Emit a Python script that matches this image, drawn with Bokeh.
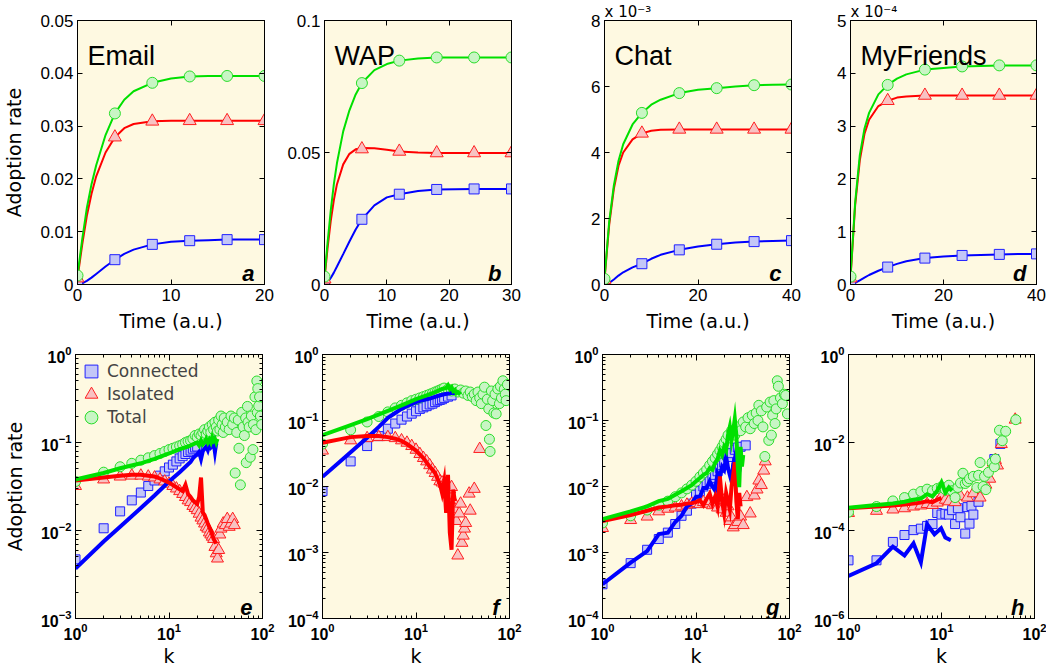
from bokeh.plotting import figure
from bokeh.models import (Range1d, FixedTicker, LinearAxis, LogAxis,
                          CustomJSTickFormatter, LogTickFormatter, Label,
                          Legend, LegendItem)
from bokeh.layouts import row, column
from bokeh.embed import file_html
from bokeh.resources import INLINE

# ---------------- data : top row (adoption rate vs time) ----------------
titles = ["Email", "WAP", "Chat", "MyFriends"]
letters_top = ["a", "b", "c", "d"]

a_t = [0, 4, 8, 12, 16, 20]
a_conn = [0.0002, 0.0047, 0.0076, 0.0083, 0.0085, 0.0085]
a_iso = [0.0012, 0.0279, 0.0309, 0.0310, 0.0310, 0.0310]
a_tot = [0.0017, 0.0324, 0.0382, 0.0394, 0.0395, 0.0395]
a_tc = [0, 0.5, 1, 1.5, 2, 3, 4, 5, 6, 8, 10, 12, 14, 16, 18, 20]
a_conn_c = [0, 0.0002, 0.0007, 0.0013, 0.0020, 0.0034, 0.0047, 0.0058, 0.0066, 0.0076, 0.0081, 0.0083, 0.0084, 0.0085, 0.0085, 0.0085]
a_iso_c = [0.0012, 0.0075, 0.0130, 0.0172, 0.0205, 0.0250, 0.0279, 0.0296, 0.0304, 0.0309, 0.0310, 0.0310, 0.0310, 0.0310, 0.0310, 0.0310]
a_tot_c = [0.0017, 0.0085, 0.0145, 0.0190, 0.0226, 0.0283, 0.0324, 0.0350, 0.0366, 0.0382, 0.0390, 0.0394, 0.0395, 0.0395, 0.0395, 0.0395]

b_t = [0, 6, 12, 18, 24, 30]
b_conn = [0.0, 0.0247, 0.0342, 0.0360, 0.0362, 0.0362]
b_iso = [0.002, 0.0513, 0.0504, 0.0498, 0.0498, 0.0498]
b_tot = [0.003, 0.0763, 0.0848, 0.0860, 0.0860, 0.0860]
b_tc = [0, 0.5, 1, 1.5, 2, 3, 4, 5, 6, 8, 10, 12, 15, 18, 21, 24, 27, 30]
b_conn_c = [0, 0.0008, 0.0025, 0.0045, 0.0068, 0.0115, 0.0163, 0.0208, 0.0247, 0.0300, 0.0330, 0.0342, 0.0354, 0.0360, 0.0361, 0.0362, 0.0362, 0.0362]
b_iso_c = [0.002, 0.014, 0.024, 0.032, 0.038, 0.0455, 0.0495, 0.0512, 0.0517, 0.0516, 0.0510, 0.0504, 0.0500, 0.0498, 0.0498, 0.0498, 0.0498, 0.0498]
b_tot_c = [0.003, 0.016, 0.028, 0.038, 0.046, 0.058, 0.066, 0.072, 0.0763, 0.0812, 0.0835, 0.0848, 0.0856, 0.0860, 0.0860, 0.0860, 0.0860, 0.0860]

c_t = [0, 8, 16, 24, 32, 40]
c_conn = [0.0, 0.63e-3, 1.05e-3, 1.22e-3, 1.30e-3, 1.33e-3]
c_iso = [0.15e-3, 4.58e-3, 4.70e-3, 4.70e-3, 4.70e-3, 4.70e-3]
c_tot = [0.17e-3, 5.20e-3, 5.80e-3, 5.95e-3, 6.04e-3, 6.06e-3]
c_tc = [0, 1, 2, 3, 4, 6, 8, 10, 12, 16, 20, 24, 28, 32, 36, 40]
c_conn_c = [0, 0.05e-3, 0.15e-3, 0.27e-3, 0.37e-3, 0.52e-3, 0.63e-3, 0.78e-3, 0.90e-3, 1.05e-3, 1.15e-3, 1.22e-3, 1.27e-3, 1.30e-3, 1.32e-3, 1.33e-3]
c_iso_c = [0.15e-3, 1.80e-3, 2.90e-3, 3.60e-3, 4.00e-3, 4.40e-3, 4.58e-3, 4.66e-3, 4.69e-3, 4.70e-3, 4.70e-3, 4.70e-3, 4.70e-3, 4.70e-3, 4.70e-3, 4.70e-3]
c_tot_c = [0.17e-3, 1.90e-3, 3.00e-3, 3.75e-3, 4.25e-3, 4.85e-3, 5.20e-3, 5.45e-3, 5.60e-3, 5.80e-3, 5.90e-3, 5.95e-3, 6.00e-3, 6.04e-3, 6.05e-3, 6.06e-3]

d_t = [0, 8, 16, 24, 32, 40]
d_conn = [0.0, 0.33e-4, 0.50e-4, 0.55e-4, 0.57e-4, 0.58e-4]
d_iso = [0.12e-4, 3.48e-4, 3.58e-4, 3.58e-4, 3.58e-4, 3.58e-4]
d_tot = [0.15e-4, 3.78e-4, 4.07e-4, 4.13e-4, 4.15e-4, 4.15e-4]
d_tc = [0, 1, 2, 3, 4, 6, 8, 10, 12, 16, 20, 24, 28, 32, 36, 40]
d_conn_c = [0, 0.03e-4, 0.08e-4, 0.13e-4, 0.18e-4, 0.26e-4, 0.33e-4, 0.39e-4, 0.44e-4, 0.50e-4, 0.53e-4, 0.55e-4, 0.56e-4, 0.57e-4, 0.58e-4, 0.58e-4]
d_iso_c = [0.12e-4, 1.50e-4, 2.35e-4, 2.85e-4, 3.12e-4, 3.38e-4, 3.48e-4, 3.54e-4, 3.56e-4, 3.58e-4, 3.58e-4, 3.58e-4, 3.58e-4, 3.58e-4, 3.58e-4, 3.58e-4]
d_tot_c = [0.15e-4, 1.55e-4, 2.45e-4, 2.95e-4, 3.25e-4, 3.60e-4, 3.78e-4, 3.90e-4, 3.98e-4, 4.07e-4, 4.10e-4, 4.13e-4, 4.14e-4, 4.15e-4, 4.15e-4, 4.15e-4]

# ---------------- data : bottom row (adoption rate vs degree k) ----------------
letters_bot = ["e", "f", "g", "h"]
legend_labels = ["Connected", "Isolated", "Total"]

e_conn_k = [1, 2, 3, 4, 5, 6, 7, 8, 9, 10, 11, 12, 13, 14, 15, 16, 17, 18, 19, 20]
e_conn = [0.0047, 0.0106, 0.0165, 0.022, 0.027, 0.032, 0.037, 0.042, 0.047, 0.052, 0.056, 0.061, 0.066, 0.070, 0.074, 0.078, 0.081, 0.085, 0.088, 0.090]
e_conn_lk = [1, 2, 3, 5, 7, 10, 13, 15, 17, 18, 19, 20, 21, 22, 23, 24, 25, 26, 27, 28, 29, 30, 31, 32, 33]
e_conn_l = [0.0037, 0.0075, 0.011, 0.018, 0.025, 0.036, 0.046, 0.053, 0.060, 0.066, 0.070, 0.073, 0.078, 0.065, 0.080, 0.085, 0.090, 0.082, 0.095, 0.088, 0.092, 0.100, 0.078, 0.098, 0.100]
e_iso_k = [1, 2, 3, 4, 5, 6, 7, 8, 9, 10, 11, 12, 13, 14, 15, 16, 17, 18, 19, 20, 21, 22, 23, 24, 25, 26, 27, 28, 29, 30, 31, 32, 33, 34, 35, 36, 38, 40, 42, 44, 46, 48, 50]
e_iso = [0.032, 0.038, 0.041, 0.042, 0.042, 0.041, 0.040, 0.038, 0.036, 0.034, 0.032, 0.030, 0.028, 0.026, 0.024, 0.022, 0.021, 0.019, 0.018, 0.017, 0.0155, 0.014, 0.013, 0.012, 0.011, 0.0105, 0.0095, 0.009, 0.0085, 0.008, 0.0065, 0.0055, 0.0048, 0.006, 0.009, 0.0105, 0.012, 0.0115, 0.0135, 0.011, 0.012, 0.0135, 0.0115]
e_iso_lk = [1, 2, 3, 4, 5, 6, 7, 8, 10, 12, 14, 15, 16, 17, 18, 20, 21, 22, 23, 24, 26, 28, 30, 32]
e_iso_l = [0.037, 0.040, 0.042, 0.043, 0.043, 0.042, 0.041, 0.039, 0.035, 0.031, 0.028, 0.033, 0.026, 0.024, 0.022, 0.020, 0.024, 0.040, 0.016, 0.015, 0.012, 0.010, 0.008, 0.0071]
e_tot_k = [1, 2, 3, 4, 5, 6, 7, 8, 9, 10, 11, 12, 13, 14, 15, 16, 17, 18, 19, 20, 21, 22, 23, 24, 25, 26, 27, 28, 29, 30, 31, 32, 33, 34, 35, 36, 37, 38, 39, 40, 42, 44, 46, 48, 50, 51, 53, 55, 56, 58, 60, 62, 64, 66, 67, 69, 70, 72, 74, 76, 79, 80, 83, 85, 87, 88, 89, 91, 93, 95, 98]
e_tot = [0.036, 0.046, 0.053, 0.058, 0.063, 0.067, 0.071, 0.075, 0.079, 0.083, 0.086, 0.089, 0.092, 0.095, 0.100, 0.103, 0.105, 0.110, 0.120, 0.115, 0.125, 0.120, 0.130, 0.140, 0.125, 0.135, 0.150, 0.130, 0.160, 0.140, 0.170, 0.150, 0.135, 0.180, 0.140, 0.200, 0.160, 0.130, 0.190, 0.150, 0.170, 0.140, 0.200, 0.160, 0.190, 0.045, 0.130, 0.180, 0.086, 0.033, 0.220, 0.150, 0.120, 0.190, 0.059, 0.257, 0.170, 0.150, 0.068, 0.200, 0.083, 0.160, 0.330, 0.140, 0.500, 0.220, 0.410, 0.260, 0.330, 0.200, 0.160]
e_tot_lk = [1, 2, 3, 5, 7, 10, 13, 16, 18, 20, 21, 22, 23, 24, 25, 26, 27, 28, 29, 30, 31, 32, 33]
e_tot_l = [0.038, 0.045, 0.051, 0.058, 0.065, 0.075, 0.084, 0.090, 0.095, 0.100, 0.093, 0.105, 0.095, 0.100, 0.110, 0.100, 0.108, 0.100, 0.115, 0.105, 0.110, 0.100, 0.110]

f_conn_k = [1, 2, 3, 4, 5, 6, 7, 8, 9, 10, 11, 12, 13, 14, 15, 16, 17, 18, 19, 20, 22, 24]
f_conn = [0.0085, 0.024, 0.041, 0.058, 0.075, 0.090, 0.103, 0.115, 0.127, 0.138, 0.150, 0.158, 0.165, 0.175, 0.180, 0.190, 0.200, 0.205, 0.210, 0.220, 0.230, 0.240]
f_conn_lk = [1, 2, 3, 4, 5, 6, 7, 8, 10, 12, 14, 17, 20, 24, 27]
f_conn_l = [0.014, 0.033, 0.055, 0.080, 0.110, 0.130, 0.150, 0.165, 0.190, 0.205, 0.215, 0.235, 0.250, 0.260, 0.260]
f_iso_k = [1, 2, 3, 4, 5, 6, 7, 8, 9, 10, 11, 12, 13, 14, 15, 16, 17, 18, 19, 20, 21, 22, 23, 24, 25, 26, 27, 28, 29, 30, 31, 32, 33, 34, 37, 38, 42, 48]
f_iso = [0.035, 0.050, 0.054, 0.056, 0.056, 0.054, 0.050, 0.046, 0.041, 0.036, 0.031, 0.027, 0.024, 0.021, 0.018, 0.016, 0.014, 0.012, 0.0115, 0.011, 0.010, 0.0095, 0.009, 0.0098, 0.006, 0.0045, 0.003, 0.0009, 0.0039, 0.0055, 0.0014, 0.0018, 0.0023, 0.0028, 0.0078, 0.0043, 0.0092, 0.037]
f_iso_lk = [1, 2, 3, 4, 5, 6, 7, 8, 10, 12, 14, 15, 16, 17, 18, 19, 20, 21, 22, 23, 24, 25, 26]
f_iso_l = [0.046, 0.056, 0.058, 0.058, 0.056, 0.053, 0.049, 0.044, 0.035, 0.027, 0.020, 0.018, 0.016, 0.013, 0.011, 0.008, 0.012, 0.004, 0.015, 0.002, 0.0011, 0.009, 0.006]
f_tot_k = [1, 2, 3, 4, 5, 6, 7, 8, 9, 10, 11, 12, 13, 14, 15, 16, 17, 18, 19, 20, 22, 24, 26, 28, 30, 32, 34, 36, 38, 40, 42, 44, 46, 48, 50, 52, 54, 56, 58, 60, 61, 62, 64, 66, 68, 70, 72, 75, 78, 80, 82, 85, 88, 90, 92, 95]
f_tot = [0.044, 0.072, 0.095, 0.115, 0.135, 0.155, 0.170, 0.185, 0.200, 0.210, 0.220, 0.230, 0.240, 0.250, 0.260, 0.270, 0.280, 0.290, 0.300, 0.310, 0.300, 0.280, 0.300, 0.270, 0.290, 0.260, 0.280, 0.240, 0.270, 0.230, 0.250, 0.200, 0.270, 0.220, 0.180, 0.250, 0.320, 0.084, 0.210, 0.150, 0.052, 0.034, 0.280, 0.200, 0.130, 0.250, 0.126, 0.300, 0.180, 0.330, 0.220, 0.400, 0.300, 0.250, 0.200, 0.350]
f_tot_lk = [1, 2, 3, 5, 7, 10, 13, 16, 19, 21, 22, 23, 24, 25, 26, 27, 28, 30]
f_tot_l = [0.060, 0.085, 0.105, 0.140, 0.170, 0.210, 0.240, 0.270, 0.300, 0.310, 0.340, 0.300, 0.320, 0.280, 0.290, 0.260, 0.270, 0.250]

g_conn_k = [1, 2, 3, 4, 5, 6, 7, 8, 9, 10, 11, 12, 13, 14, 15, 16, 17, 18, 19, 20, 22, 24, 26, 28, 30, 34]
g_conn = [3.3e-4, 6.9e-4, 1.1e-3, 1.6e-3, 2.0e-3, 2.7e-3, 3.6e-3, 4.3e-3, 5.5e-3, 7.5e-3, 8.5e-3, 1.0e-2, 1.1e-2, 1.2e-2, 1.35e-2, 1.5e-2, 1.7e-2, 1.9e-2, 2.1e-2, 2.3e-2, 2.8e-2, 3.2e-2, 3.6e-2, 3.9e-2, 4.0e-2, 4.2e-2]
g_conn_lk = [1, 2, 3, 4, 5, 6, 7, 8, 9, 10, 11, 12, 13, 14, 15, 16, 17, 18, 19, 20, 21, 22, 23, 24, 25, 26, 27, 28, 29, 30]
g_conn_l = [3.3e-4, 7.0e-4, 1.05e-3, 1.9e-3, 2.0e-3, 2.9e-3, 3.6e-3, 5.0e-3, 5.5e-3, 7.0e-3, 7.0e-3, 9.5e-3, 9.5e-3, 1.2e-2, 1.0e-2, 8.7e-3, 1.6e-2, 1.4e-2, 2.0e-2, 1.8e-2, 2.8e-2, 1.9e-2, 1.5e-2, 1.2e-2, 2.2e-2, 2.6e-2, 3.5e-2, 2.5e-2, 1.7e-2, 2.2e-2]
g_iso_k = [1, 2, 3, 4, 5, 6, 7, 8, 9, 10, 11, 12, 13, 14, 15, 16, 17, 18, 19, 20, 21, 22, 23, 24, 25, 26, 28, 30, 32, 35, 38, 42, 45, 47, 50, 53, 55]
g_iso = [2.35e-3, 3.1e-3, 3.5e-3, 4.2e-3, 4.6e-3, 4.8e-3, 5.0e-3, 5.3e-3, 5.5e-3, 5.6e-3, 5.4e-3, 5.8e-3, 5.5e-3, 6.0e-3, 5.2e-3, 5.5e-3, 4.8e-3, 6.5e-3, 4.5e-3, 6.2e-3, 4.0e-3, 5.0e-3, 3.0e-3, 3.4e-3, 2.4e-3, 2.6e-3, 2.9e-3, 3.5e-3, 2.6e-3, 6.9e-3, 3.9e-3, 7.3e-3, 9.0e-3, 1.23e-2, 1.05e-2, 1.74e-2, 2.4e-2]
g_iso_lk = [1, 2, 3, 4, 5, 6, 7, 8, 9, 10, 11, 12, 13, 14, 15, 16, 17, 18, 19, 20, 21, 22, 23, 24, 25, 26, 27, 28, 29, 30]
g_iso_l = [3.0e-3, 3.7e-3, 4.3e-3, 4.8e-3, 5.0e-3, 5.2e-3, 5.3e-3, 5.5e-3, 5.6e-3, 5.8e-3, 6.2e-3, 5.2e-3, 6.5e-3, 7.8e-3, 5.5e-3, 7.0e-3, 5.0e-3, 1.42e-2, 6.0e-3, 3.9e-3, 8.0e-3, 6.0e-3, 4.5e-3, 1.0e-2, 1.5e-2, 2.34e-2, 6.0e-3, 3.2e-3, 8.0e-3, 5.0e-3]
g_tot_k = [1, 2, 3, 4, 5, 6, 7, 8, 9, 10, 11, 12, 13, 14, 15, 16, 17, 18, 19, 20, 21, 22, 24, 26, 28, 30, 32, 34, 36, 38, 40, 42, 44, 46, 47, 50, 52, 54.5, 57, 60, 62, 64, 66, 68, 70, 72, 74, 76, 80, 84, 88, 91, 95]
g_tot = [2.8e-3, 3.6e-3, 4.4e-3, 5.2e-3, 6.0e-3, 7.0e-3, 8.0e-3, 9.2e-3, 1.05e-2, 1.2e-2, 1.4e-2, 1.6e-2, 1.8e-2, 2.1e-2, 2.4e-2, 2.7e-2, 3.1e-2, 3.5e-2, 4.0e-2, 4.6e-2, 5.2e-2, 6.0e-2, 7.0e-2, 6.0e-2, 8.0e-2, 7.0e-2, 9.5e-2, 8.0e-2, 1.1e-1, 7.5e-2, 1.2e-1, 9.0e-2, 1.3e-1, 1.0e-1, 1.7e-1, 1.4e-1, 8.0e-2, 2.85e-2, 1.6e-1, 5.0e-2, 1.9e-1, 6.0e-2, 1.2e-1, 2.0e-1, 9.0e-2, 1.5e-1, 4.0e-1, 3.3e-1, 2.2e-1, 1.8e-1, 2.5e-1, 2.4e-1, 1.26e-1]
g_tot_lk = [1, 2, 3, 4, 5, 6, 7, 8, 9, 10, 11, 12, 13, 14, 15, 16, 17, 18, 19, 20, 21, 22, 23, 24, 25, 26, 27, 28, 29, 30, 31, 32]
g_tot_l = [3.2e-3, 4.2e-3, 5.0e-3, 6.0e-3, 6.5e-3, 7.5e-3, 8.5e-3, 9.5e-3, 1.05e-2, 1.2e-2, 1.35e-2, 1.5e-2, 1.6e-2, 1.9e-2, 1.8e-2, 2.3e-2, 2.6e-2, 3.5e-2, 3.0e-2, 4.0e-2, 3.5e-2, 6.0e-2, 8.0e-2, 5.0e-2, 7.0e-2, 1.06e-1, 6.0e-2, 2.0e-2, 9.8e-3, 4.0e-2, 2.0e-2, 3.0e-2]

h_conn_k = [1, 2, 3, 4, 5, 6, 7, 8, 9, 10, 11, 12, 13, 14, 15, 16, 18, 19, 20, 21, 22, 25, 37, 43]
h_conn = [2.1e-5, 2.1e-5, 5.5e-5, 7.9e-5, 1.02e-4, 1.1e-4, 1.27e-4, 1.4e-4, 2.5e-4, 2.3e-4, 2.4e-4, 2.3e-4, 2.9e-4, 1.4e-4, 3.2e-4, 2.0e-4, 8.5e-5, 3.4e-4, 1.43e-4, 3.6e-4, 2.3e-4, 4.5e-4, 4.2e-3, 9.3e-3]
h_conn_lk = [1, 2, 3, 4, 5, 6, 7, 8.4, 9.9, 11, 12.6]
h_conn_l = [9.3e-6, 1.8e-5, 4.3e-5, 2.7e-5, 5.1e-5, 1.9e-5, 1.39e-4, 8.2e-5, 1.12e-4, 6.9e-5, 6.0e-5]
h_iso_k = [1, 2, 3, 4, 5, 6, 7, 8, 9, 10, 11, 12, 14, 16, 19, 22, 26, 28, 30, 33, 36, 38, 40, 44, 62]
h_iso = [2.5e-4, 2.8e-4, 3.0e-4, 3.2e-4, 3.5e-4, 3.7e-4, 4.0e-4, 3.8e-4, 4.3e-4, 5.9e-4, 5.0e-4, 4.6e-4, 4.4e-4, 6.0e-4, 5.6e-4, 7.0e-4, 5.6e-4, 9.0e-4, 1.1e-3, 1.5e-3, 3.5e-3, 4.0e-3, 3.0e-3, 9.2e-3, 3.3e-2]
h_iso_lk = [1, 2, 3, 4, 5, 6, 7, 8, 9, 10]
h_iso_l = [3.2e-4, 3.5e-4, 3.7e-4, 3.9e-4, 4.1e-4, 4.3e-4, 4.6e-4, 4.4e-4, 5.0e-4, 5.5e-4]
h_tot_k = [1, 2, 3, 4, 5, 6, 7, 8, 9, 10, 11, 12, 13, 14, 15, 16, 17, 18, 19, 20, 22, 24, 25, 26, 28, 29, 30, 32, 35, 37, 38, 42, 45, 49, 63]
h_tot = [2.6e-4, 3.5e-4, 4.7e-4, 5.6e-4, 6.7e-4, 7.7e-4, 8.7e-4, 8.0e-4, 9.0e-4, 9.8e-4, 8.5e-4, 1.07e-3, 8.0e-4, 5.6e-4, 9.5e-4, 1.2e-3, 2.0e-3, 1.17e-3, 1.3e-3, 1.5e-3, 1.7e-3, 9.5e-4, 1.8e-3, 3.5e-3, 1.0e-3, 1.7e-3, 8.5e-4, 2.1e-3, 3.5e-3, 2.8e-3, 4.2e-3, 1.9e-2, 1.1e-2, 1.8e-2, 3.3e-2]
h_tot_lk = [1, 2, 3, 4, 5, 6, 7, 8, 9, 10, 11, 12, 13]
h_tot_l = [3.3e-4, 3.8e-4, 4.1e-4, 4.5e-4, 5.0e-4, 5.3e-4, 6.7e-4, 6.0e-4, 8.0e-4, 1.24e-3, 7.3e-4, 9.5e-4, 8.0e-4]

# ---------------- style ----------------
BG = "#FEF9E1"
LINE = {"conn": "#0000FF", "iso": "#FF0000", "tot": "#00E000"}
FILL = {"conn": "#C3C6F7", "iso": "#F8C2C2", "tot": "#C8F5C4"}
EDGE = {"conn": "#2020FF", "iso": "#FF2020", "tot": "#2ADD2A"}
MARK = {"conn": "square", "iso": "triangle", "tot": "circle"}
TICK_FONT = "Liberation Sans"
LABEL_FONT = "DejaVu Sans"
FH = 264
BLANK = "return '';"


def style_axis(ax, show_labels, log=False):
    ax.axis_line_color = "black"
    ax.major_tick_in = 6 if log else 5
    ax.major_tick_out = 0
    ax.minor_tick_in = 3
    ax.minor_tick_out = 0
    ax.major_tick_line_color = "black"
    ax.minor_tick_line_color = "black"
    ax.major_label_standoff = 4
    ax.major_label_text_font = TICK_FONT
    ax.major_label_text_color = "black"
    if log:
        ax.major_label_text_font_style = "bold"
        ax.major_label_text_font_size = "16px"
    else:
        ax.major_label_text_font_size = "17px"
    if not show_labels:
        ax.formatter = CustomJSTickFormatter(code=BLANK)
        ax.major_label_standoff = 0
    ax.axis_label_text_font = LABEL_FONT
    ax.axis_label_text_font_size = "19px"
    ax.axis_label_text_font_style = "normal"
    ax.axis_label_text_color = "black"
    ax.axis_label_standoff = 6


def base_fig(fw, lb, rb, tb, bb, xr, yr, log):
    kw = dict(frame_width=fw, frame_height=FH, x_range=xr, y_range=yr,
              min_border_left=lb, min_border_right=rb, min_border_top=tb,
              min_border_bottom=bb, output_backend="svg", toolbar_location=None,
              background_fill_color=BG, border_fill_color="white",
              outline_line_color="black", outline_line_width=1)
    if log:
        kw.update(x_axis_type="log", y_axis_type="log")
    p = figure(**kw)
    p.xgrid.visible = False
    p.ygrid.visible = False
    return p


def add_mirror_axes(p, xt, yt):
    top = LinearAxis(ticker=xt)
    style_axis(top, False)
    p.add_layout(top, "above")
    right = LinearAxis(ticker=yt)
    style_axis(right, False)
    p.add_layout(right, "right")


def panel_letter(p, fw, letter):
    p.add_layout(Label(x=fw - 10, y=11, x_units="screen", y_units="screen",
                       text=letter, text_align="right", text_baseline="alphabetic",
                       text_font=TICK_FONT, text_font_style="bold italic",
                       text_font_size="22px", text_color="black"))


def top_panel(fw, lb, rb, name, letter, t, conn, iso, tot, tc, conn_c, iso_c, tot_c,
              xmax, xticks, ymax, yticks, scale, exponent, ylabel):
    p = base_fig(fw, lb, rb, 20, 44, Range1d(0, xmax), Range1d(0, ymax), False)
    xt = FixedTicker(ticks=xticks, minor_ticks=[])
    yt = FixedTicker(ticks=yticks, minor_ticks=[])
    p.xaxis[0].ticker = xt
    p.yaxis[0].ticker = yt
    p.yaxis[0].formatter = CustomJSTickFormatter(
        args=dict(s=scale),
        code="const v = tick*s; return Math.abs(v) < 1e-9 ? '0' : String(parseFloat(v.toFixed(6)));")
    style_axis(p.xaxis[0], True)
    style_axis(p.yaxis[0], True)
    p.xaxis[0].axis_label = "Time (a.u.)"
    if ylabel:
        p.yaxis[0].axis_label = "Adoption rate"
        p.yaxis[0].axis_label_standoff = 12
    add_mirror_axes(p, xt, yt)
    for key, yc in (("conn", conn_c), ("iso", iso_c), ("tot", tot_c)):
        p.line(tc, yc, line_color=LINE[key], line_width=2)
    sizes = {"conn": 10, "iso": 13, "tot": 11}
    for key, yv in (("conn", conn), ("iso", iso), ("tot", tot)):
        p.scatter(t, yv, marker=MARK[key], size=sizes[key], fill_color=FILL[key],
                  line_color=EDGE[key], line_width=1)
    p.add_layout(Label(x=10, y=229, x_units="screen", y_units="screen", text=name,
                       text_font=TICK_FONT, text_font_size="27px", text_color="black",
                       text_baseline="alphabetic"))
    panel_letter(p, fw, letter)
    if exponent:
        p.title.text = exponent
        p.title.align = "left"
        p.title.text_font = LABEL_FONT
        p.title.text_font_size = "15px"
        p.title.text_font_style = "normal"
        p.title.text_color = "black"
        p.title.standoff = 0
        p.title.offset = 0
    return p


def bottom_panel(fw, lb, rb, letter, ymin, yticks, yminor, series, lines, ylabel, legend):
    p = base_fig(fw, lb, rb, 20, 42, Range1d(1, 100), Range1d(ymin, 1), True)
    xt = FixedTicker(ticks=[1, 10, 100],
                     minor_ticks=[2, 3, 4, 5, 6, 7, 8, 9, 20, 30, 40, 50, 60, 70, 80, 90])
    yt = FixedTicker(ticks=yticks, minor_ticks=yminor)
    p.xaxis[0].ticker = xt
    p.yaxis[0].ticker = yt
    p.xaxis[0].formatter = LogTickFormatter()
    p.yaxis[0].formatter = LogTickFormatter()
    style_axis(p.xaxis[0], True, True)
    style_axis(p.yaxis[0], True, True)
    p.xaxis[0].axis_label = "k"
    p.xaxis[0].axis_label_standoff = 2
    if ylabel:
        p.yaxis[0].axis_label = "Adoption rate"
        p.yaxis[0].axis_label_standoff = 12
    top = LogAxis(ticker=xt)
    style_axis(top, False, True)
    p.add_layout(top, "above")
    right = LogAxis(ticker=yt)
    style_axis(right, False, True)
    p.add_layout(right, "right")
    sizes = {"conn": 9, "iso": 12, "tot": 10}
    rends = []
    for key, (kk, yy) in zip(("conn", "iso", "tot"), series):
        r = p.scatter(kk, yy, marker=MARK[key], size=sizes[key], fill_color=FILL[key],
                      line_color=EDGE[key], line_width=1)
        rends.append(r)
    for key, (kk, yy) in zip(("conn", "iso", "tot"), lines):
        p.line(kk, yy, line_color=LINE[key], line_width=4, line_join="miter")
    panel_letter(p, fw, letter)
    if legend:
        # one single-entry legend per series, stacked 23px apart
        for i, (lab, r) in enumerate(zip(legend_labels, rends)):
            lg = Legend(items=[LegendItem(label=lab, renderers=[r])],
                        location=(0, FH - 33 - 23 * i),
                        background_fill_alpha=0, border_line_alpha=0,
                        label_text_font=LABEL_FONT, label_text_font_size="17px",
                        glyph_width=32, glyph_height=32, label_height=20,
                        label_standoff=0, spacing=0, padding=0, margin=0)
            p.add_layout(lg)
    return p


# frame geometry (page x of frame lefts: 77, 324, 604, 850)
FW = [187, 187, 187, 186]
LB = [69, 44, 77, 43]
RB = [16, 16, 16, 12]

pa = top_panel(FW[0], LB[0], RB[0], titles[0], letters_top[0], a_t, a_conn, a_iso, a_tot,
               a_tc, a_conn_c, a_iso_c, a_tot_c, 20, [0, 10, 20], 0.05,
               [0, 0.01, 0.02, 0.03, 0.04, 0.05], 1, None, True)
pb = top_panel(FW[1], LB[1], RB[1], titles[1], letters_top[1], b_t, b_conn, b_iso, b_tot,
               b_tc, b_conn_c, b_iso_c, b_tot_c, 30, [0, 10, 20, 30], 0.1,
               [0, 0.05, 0.1], 1, None, False)
pc = top_panel(FW[2], LB[2], RB[2], titles[2], letters_top[2], c_t, c_conn, c_iso, c_tot,
               c_tc, c_conn_c, c_iso_c, c_tot_c, 40, [0, 20, 40], 8e-3,
               [0, 2e-3, 4e-3, 6e-3, 8e-3], 1e3, "x 10\u207b\u00b3", False)
pd_ = top_panel(FW[3], LB[3], RB[3], titles[3], letters_top[3], d_t, d_conn, d_iso, d_tot,
                d_tc, d_conn_c, d_iso_c, d_tot_c, 40, [0, 20, 40], 5e-4,
                [0, 1e-4, 2e-4, 3e-4, 4e-4, 5e-4], 1e4, "x 10\u207b\u2074", False)


def minors(lo_exp, hi_exp):
    out = []
    for e in range(lo_exp, hi_exp):
        for m in range(2, 10):
            out.append(m * 10.0 ** e)
    return out


pe = bottom_panel(FW[0], LB[0], RB[0], letters_bot[0], 1e-3, [1e-3, 1e-2, 1e-1, 1], minors(-3, 0),
                  [(e_conn_k, e_conn), (e_iso_k, e_iso), (e_tot_k, e_tot)],
                  [(e_conn_lk, e_conn_l), (e_iso_lk, e_iso_l), (e_tot_lk, e_tot_l)], True, True)
pf = bottom_panel(FW[1], LB[1], RB[1], letters_bot[1], 1e-4, [1e-4, 1e-3, 1e-2, 1e-1, 1], minors(-4, 0),
                  [(f_conn_k, f_conn), (f_iso_k, f_iso), (f_tot_k, f_tot)],
                  [(f_conn_lk, f_conn_l), (f_iso_lk, f_iso_l), (f_tot_lk, f_tot_l)], False, False)
pg = bottom_panel(FW[2], LB[2], RB[2], letters_bot[2], 1e-4, [1e-4, 1e-3, 1e-2, 1e-1, 1], minors(-4, 0),
                  [(g_conn_k, g_conn), (g_iso_k, g_iso), (g_tot_k, g_tot)],
                  [(g_conn_lk, g_conn_l), (g_iso_lk, g_iso_l), (g_tot_lk, g_tot_l)], False, False)
ph = bottom_panel(FW[3], LB[3], RB[3], letters_bot[3], 1e-6, [1e-6, 1e-4, 1e-2, 1], [],
                  [(h_conn_k, h_conn), (h_iso_k, h_iso), (h_tot_k, h_tot)],
                  [(h_conn_lk, h_conn_l), (h_iso_lk, h_iso_l), (h_tot_lk, h_tot_l)], False, False)

layout = column(row(pa, pb, pc, pd_, spacing=0), row(pe, pf, pg, ph, spacing=0), spacing=0)

with open("out.html", "w") as f:
    f.write(file_html(layout, INLINE))
